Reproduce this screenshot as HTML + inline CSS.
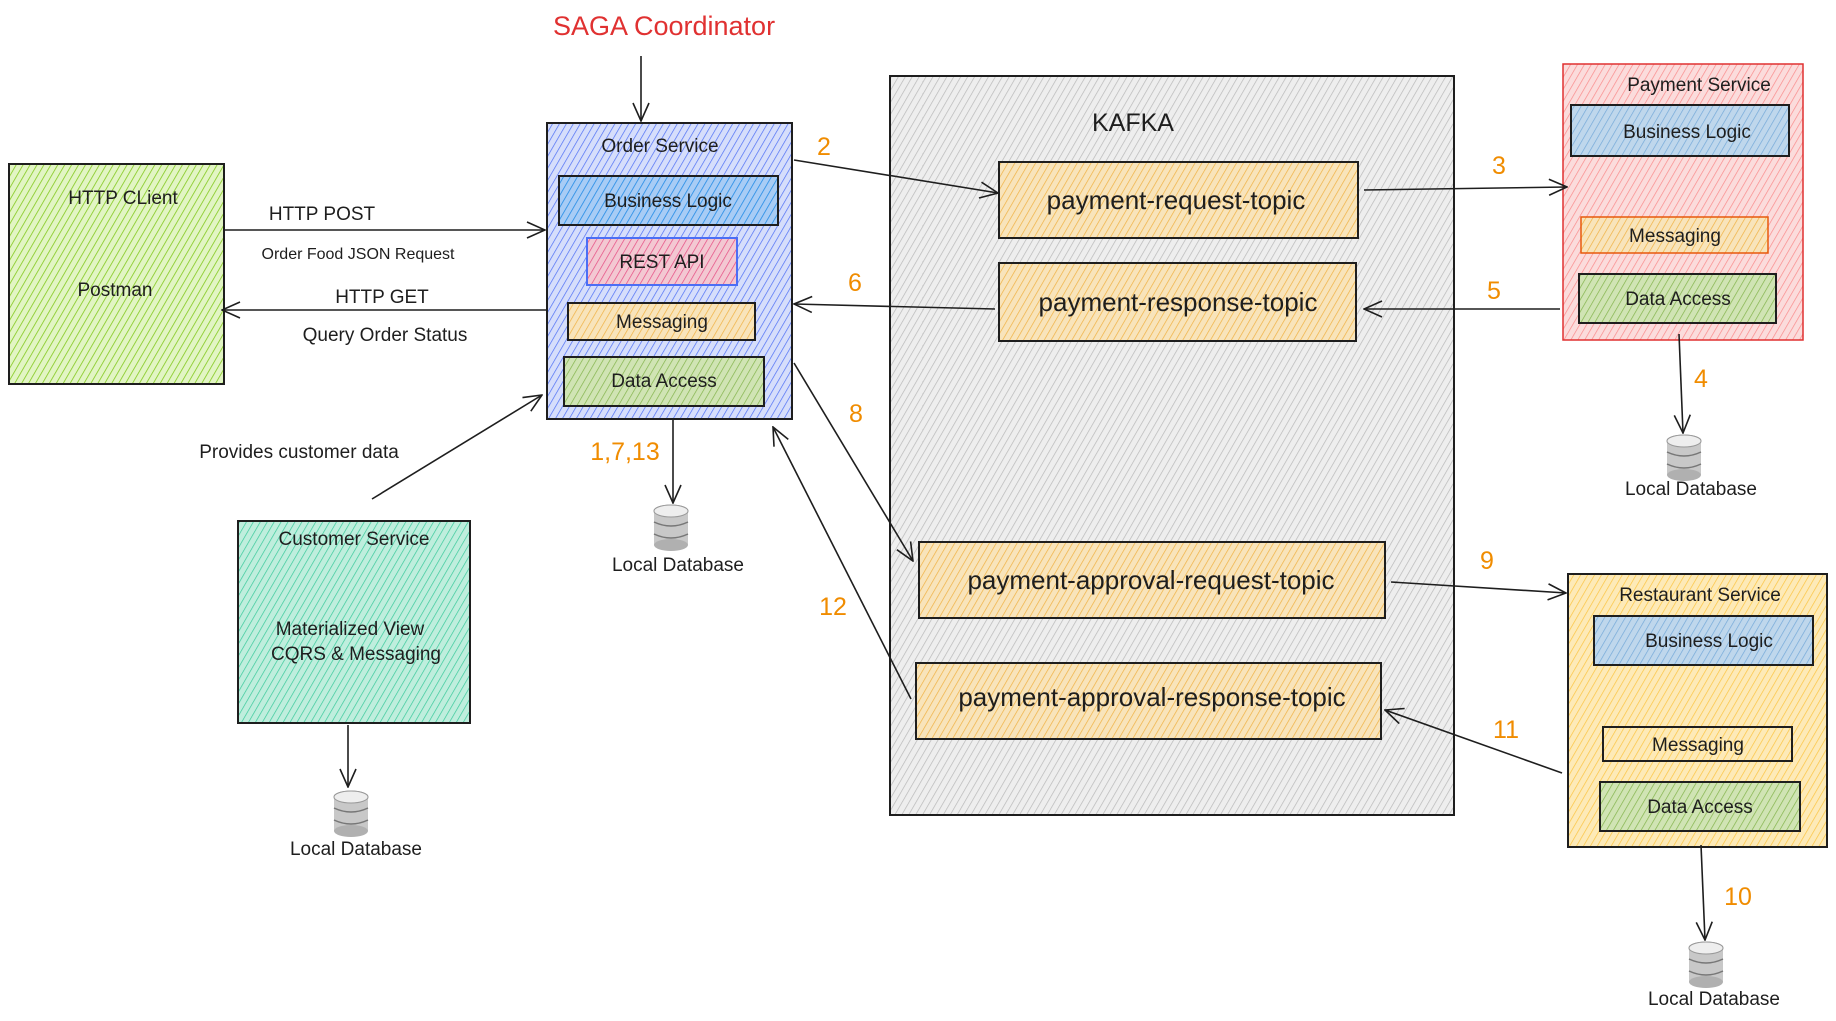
<!DOCTYPE html>
<html><head><meta charset="utf-8"><style>
html,body{margin:0;padding:0;background:#fff;}
svg{display:block}
text{font-family:"Liberation Sans",sans-serif;fill:#1e1e1e}
</style></head><body>
<svg width="1836" height="1021" viewBox="0 0 1836 1021" xmlns="http://www.w3.org/2000/svg">
<defs>
<pattern id="pg" width="6" height="6" patternUnits="userSpaceOnUse" patternTransform="rotate(30)"><rect width="6" height="6" fill="#e2f5c4"/><line x1="0" y1="0" x2="0" y2="6" stroke="#82c91e" stroke-width="1.6"/></pattern>
<pattern id="pb" width="6" height="6" patternUnits="userSpaceOnUse" patternTransform="rotate(30)"><rect width="6" height="6" fill="#d6defb"/><line x1="0" y1="0" x2="0" y2="6" stroke="#4c6ef5" stroke-width="1.4"/></pattern>
<pattern id="pbl" width="6" height="6" patternUnits="userSpaceOnUse" patternTransform="rotate(30)"><rect width="6" height="6" fill="#a8ccf5"/><line x1="0" y1="0" x2="0" y2="6" stroke="#228be6" stroke-width="1.6"/></pattern>
<pattern id="pr" width="6" height="6" patternUnits="userSpaceOnUse" patternTransform="rotate(30)"><rect width="6" height="6" fill="#f3c8d2"/><line x1="0" y1="0" x2="0" y2="6" stroke="#e64980" stroke-width="1.4"/></pattern>
<pattern id="po" width="6" height="6" patternUnits="userSpaceOnUse" patternTransform="rotate(30)"><rect width="6" height="6" fill="#f8e4bb"/><line x1="0" y1="0" x2="0" y2="6" stroke="#f0b040" stroke-width="1.4"/></pattern>
<pattern id="pgr" width="6" height="6" patternUnits="userSpaceOnUse" patternTransform="rotate(30)"><rect width="6" height="6" fill="#d0e4b4"/><line x1="0" y1="0" x2="0" y2="6" stroke="#82b34a" stroke-width="1.4"/></pattern>
<pattern id="pk" width="6" height="6" patternUnits="userSpaceOnUse" patternTransform="rotate(30)"><rect width="6" height="6" fill="#eeeeee"/><line x1="0" y1="0" x2="0" y2="6" stroke="#b8b8b8" stroke-width="1.4"/></pattern>
<pattern id="ppk" width="6" height="6" patternUnits="userSpaceOnUse" patternTransform="rotate(30)"><rect width="6" height="6" fill="#fbdcdc"/><line x1="0" y1="0" x2="0" y2="6" stroke="#fa8a8a" stroke-width="1.4"/></pattern>
<pattern id="py" width="6" height="6" patternUnits="userSpaceOnUse" patternTransform="rotate(30)"><rect width="6" height="6" fill="#fdeab8"/><line x1="0" y1="0" x2="0" y2="6" stroke="#fcc43f" stroke-width="1.4"/></pattern>
<pattern id="pt" width="6" height="6" patternUnits="userSpaceOnUse" patternTransform="rotate(30)"><rect width="6" height="6" fill="#bfeedd"/><line x1="0" y1="0" x2="0" y2="6" stroke="#38c99a" stroke-width="1.4"/></pattern>
<pattern id="pbl2" width="6" height="6" patternUnits="userSpaceOnUse" patternTransform="rotate(30)"><rect width="6" height="6" fill="#bfd7ec"/><line x1="0" y1="0" x2="0" y2="6" stroke="#74a9d8" stroke-width="1.4"/></pattern>
<marker id="ar" viewBox="0 0 20 20" refX="19" refY="10" markerWidth="20" markerHeight="20" markerUnits="userSpaceOnUse" orient="auto"><path d="M1,2 L19,10 L1,18" fill="none" stroke="#1e1e1e" stroke-width="1.6"/></marker>
<g id="db"><ellipse cx="0" cy="-16" rx="17" ry="6" fill="#e0e0e0" stroke="#999"/><rect x="-17" y="-16" width="34" height="34" fill="#c8c8c8"/><ellipse cx="0" cy="18" rx="17" ry="6" fill="#b0b0b0"/><path d="M-17,-5 Q0,3 17,-5 M-17,7 Q0,15 17,7" fill="none" stroke="#777" stroke-width="1.5"/><ellipse cx="0" cy="-16" rx="17" ry="6" fill="#eee" stroke="#999"/></g>
</defs>
<g stroke="#1e1e1e" stroke-width="2">
<rect x="9" y="164" width="215" height="220" fill="url(#pg)"/>
<rect x="547" y="123" width="245" height="296" fill="url(#pb)"/>
<rect x="559" y="176" width="219" height="49" fill="url(#pbl)"/>
<rect x="587" y="238" width="150" height="47" fill="url(#pr)" stroke="#4c6ef5"/>
<rect x="568" y="303" width="187" height="37" fill="url(#po)"/>
<rect x="564" y="357" width="200" height="49" fill="url(#pgr)"/>
<rect x="890" y="76" width="564" height="739" fill="url(#pk)"/>
<rect x="999" y="162" width="359" height="76" fill="url(#po)"/>
<rect x="999" y="263" width="357" height="78" fill="url(#po)"/>
<rect x="919" y="542" width="466" height="76" fill="url(#po)"/>
<rect x="916" y="663" width="465" height="76" fill="url(#po)"/>
<rect x="1563" y="64" width="240" height="276" fill="url(#ppk)" stroke="#e03131" stroke-width="1.5"/>
<rect x="1571" y="105" width="218" height="51" fill="url(#pbl2)"/>
<rect x="1581" y="217" width="187" height="36" fill="url(#po)" stroke="#e8590c" stroke-width="1.5"/>
<rect x="1579" y="274" width="197" height="49" fill="url(#pgr)"/>
<rect x="1568" y="574" width="259" height="273" fill="url(#py)"/>
<rect x="1594" y="616" width="219" height="49" fill="url(#pbl2)"/>
<rect x="1603" y="727" width="189" height="34" fill="url(#py)"/>
<rect x="1600" y="782" width="200" height="49" fill="url(#pgr)"/>
<rect x="238" y="521" width="232" height="202" fill="url(#pt)"/>
</g>
<g stroke="#1e1e1e" stroke-width="1.6" fill="none" marker-end="url(#ar)">
<line x1="225" y1="230" x2="545" y2="230"/>
<line x1="547" y1="310" x2="222" y2="310"/>
<line x1="372" y1="499" x2="542" y2="395"/>
<line x1="641" y1="56" x2="641" y2="121"/>
<line x1="794" y1="160" x2="998" y2="193"/>
<line x1="1364" y1="190" x2="1567" y2="187"/>
<line x1="1560" y1="309" x2="1364" y2="309"/>
<line x1="995" y1="309" x2="794" y2="304"/>
<line x1="1679" y1="334" x2="1683" y2="433"/>
<line x1="673" y1="419" x2="673" y2="503"/>
<line x1="794" y1="363" x2="913" y2="561"/>
<line x1="911" y1="699" x2="773" y2="427"/>
<line x1="1391" y1="582" x2="1566" y2="593"/>
<line x1="1562" y1="773" x2="1385" y2="710"/>
<line x1="1701" y1="845" x2="1705" y2="940"/>
<line x1="348" y1="725" x2="348" y2="787"/>
</g>
<use href="#db" x="671" y="527"/>
<use href="#db" x="351" y="813"/>
<use href="#db" x="1684" y="457"/>
<use href="#db" x="1706" y="964"/>
<g font-size="19" text-anchor="middle">
<text x="664" y="35" font-size="27" style="fill:#e03131">SAGA Coordinator</text>
<text x="123" y="204">HTTP CLient</text>
<text x="115" y="296">Postman</text>
<text x="660" y="152">Order Service</text>
<text x="668" y="207">Business Logic</text>
<text x="662" y="268">REST API</text>
<text x="662" y="328">Messaging</text>
<text x="664" y="387">Data Access</text>
<text x="322" y="220">HTTP POST</text>
<text x="358" y="259" font-size="16">Order Food JSON Request</text>
<text x="382" y="303">HTTP GET</text>
<text x="385" y="341">Query Order Status</text>
<text x="299" y="458">Provides customer data</text>
<text x="354" y="545">Customer Service</text>
<text x="350" y="635">Materialized View</text>
<text x="356" y="660">CQRS &amp; Messaging</text>
<text x="678" y="571">Local Database</text>
<text x="356" y="855">Local Database</text>
<text x="1691" y="495">Local Database</text>
<text x="1714" y="1005">Local Database</text>
<text x="1133" y="131" font-size="25">KAFKA</text>
<text x="1176" y="209" font-size="26">payment-request-topic</text>
<text x="1178" y="311" font-size="26">payment-response-topic</text>
<text x="1151" y="589" font-size="26">payment-approval-request-topic</text>
<text x="1152" y="706" font-size="26">payment-approval-response-topic</text>
<text x="1699" y="91">Payment Service</text>
<text x="1687" y="138">Business Logic</text>
<text x="1675" y="242">Messaging</text>
<text x="1678" y="305">Data Access</text>
<text x="1700" y="601">Restaurant Service</text>
<text x="1709" y="647">Business Logic</text>
<text x="1698" y="751">Messaging</text>
<text x="1700" y="813">Data Access</text>
</g>
<g font-size="25" text-anchor="middle" style="fill:#f08c00">
<text x="824" y="155" style="fill:#f08c00">2</text>
<text x="1499" y="174" style="fill:#f08c00">3</text>
<text x="1494" y="299" style="fill:#f08c00">5</text>
<text x="855" y="291" style="fill:#f08c00">6</text>
<text x="1701" y="387" style="fill:#f08c00">4</text>
<text x="625" y="460" style="fill:#f08c00">1,7,13</text>
<text x="856" y="422" style="fill:#f08c00">8</text>
<text x="833" y="615" style="fill:#f08c00">12</text>
<text x="1487" y="569" style="fill:#f08c00">9</text>
<text x="1506" y="738" style="fill:#f08c00">11</text>
<text x="1738" y="905" style="fill:#f08c00">10</text>
</g>
</svg>
</body></html>
